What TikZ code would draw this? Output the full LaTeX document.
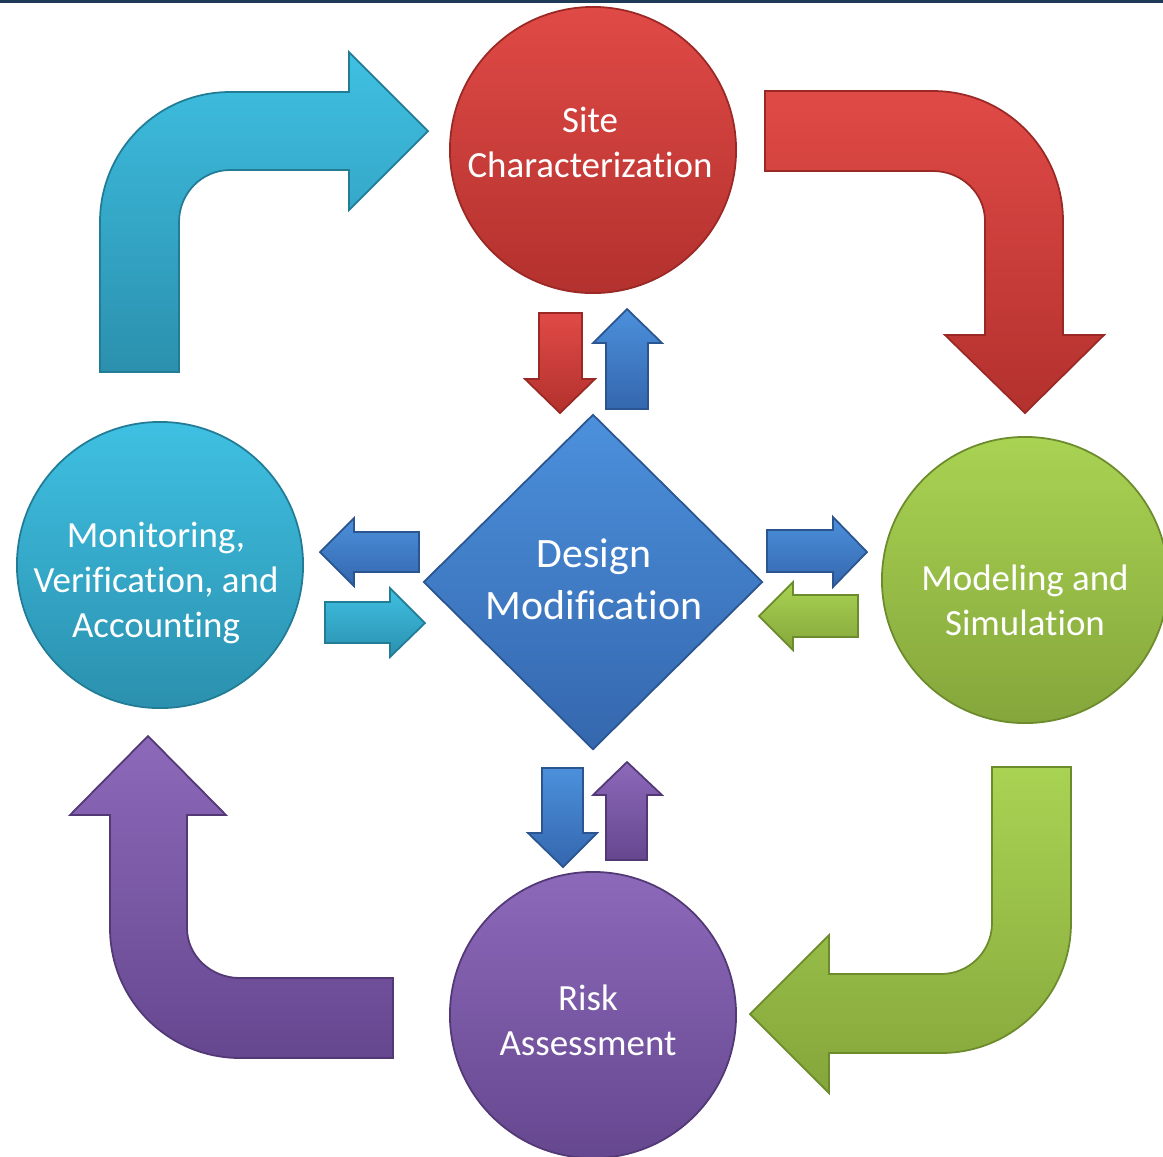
\documentclass[tikz,border=0pt]{standalone}
\usepackage{fontspec}
\setmainfont{Carlito}[RawFeature={-liga;-dlig;-clig;-calt;-rlig;-hlig}]
\usetikzlibrary{shapes.geometric}

\definecolor{redA}{HTML}{E04A46}
\definecolor{redB}{HTML}{B3312E}
\definecolor{redC}{HTML}{9A2926}
\definecolor{cyanA}{HTML}{3FC0E2}
\definecolor{cyanB}{HTML}{2B90AE}
\definecolor{cyanC}{HTML}{227C96}
\definecolor{greenA}{HTML}{A9D353}
\definecolor{greenB}{HTML}{85A63B}
\definecolor{greenC}{HTML}{6C8B2D}
\definecolor{purpleA}{HTML}{8D69BA}
\definecolor{purpleB}{HTML}{65478F}
\definecolor{purpleC}{HTML}{523976}
\definecolor{blueA}{HTML}{4C90DC}
\definecolor{blueB}{HTML}{3467AE}
\definecolor{blueC}{HTML}{2A5590}
\definecolor{bandcol}{HTML}{1E3A56}

\tikzset{
  redpart/.style={top color=redA, bottom color=redB, draw=redC, line width=0.5pt},
  cyanpart/.style={top color=cyanA, bottom color=cyanB, draw=cyanC, line width=0.5pt},
  greenpart/.style={top color=greenA, bottom color=greenB, draw=greenC, line width=0.5pt},
  purplepart/.style={top color=purpleA, bottom color=purpleB, draw=purpleC, line width=0.5pt},
  bluepart/.style={top color=blueA, bottom color=blueB, draw=blueC, line width=0.5pt},
  stage/.style={circle, minimum size=2.86cm, inner sep=0pt},
  stagetext/.style={text=white, align=center, font=\fontsize{10.5}{12.8}\selectfont},
}

\begin{document}
\begin{tikzpicture}[x=0.01cm, y=-0.01cm]
    \useasboundingbox (0,0) rectangle (1163,1156);
    \fill[bandcol] (0,0) rectangle (1163,3);

    % the four stages and the hub
    \node[stage, redpart] (site) at (593,150) {};
    \node[stage, greenpart] (model) at (1025,580) {};
    \node[stage, purplepart] (risk) at (593,1015) {};
    \node[stage, cyanpart] (mva) at (160,565) {};
    \node[diamond, shape aspect=1, minimum width=3.39cm, minimum height=3.35cm,
          inner sep=0pt, bluepart] (design) at (593,582) {};

    \node[stagetext] (site text) at (590,142) {Site\\Characterization};
    \node[stagetext] (model text) at (1025,600) {Modeling and\\Simulation};
    \node[stagetext] (risk text) at (588,1020) {Risk\\Assessment};
    \node[stagetext] (mva text) at (156,583) {Monitoring,\\Verification, and\\Accounting};
    \node[text=white, align=center, font=\fontsize{11.9}{14.8}\selectfont]
        (design text) at (594,579) {Design\\Modification};

    % big bent arrows round the cycle
    \draw[cyanpart] (100,372) -- (100,222) .. controls (100,150.2) and (158.2,92) .. (230,92)
        -- (349,92) -- (349,52) -- (428,131) -- (349,210) -- (349,170) -- (230,170)
        .. controls (201.8,170) and (179,193.3) .. (179,222) -- (179,372) -- cycle;
    \draw[redpart] (765,91) -- (933,91) .. controls (1004.8,91) and (1063,149.2) .. (1063,221)
        -- (1063,335) -- (1104,335) -- (1025,413) -- (945,335) -- (985,335) -- (985,221)
        .. controls (985,193.4) and (961.7,171) .. (933,171) -- (765,171) -- cycle;
    \draw[greenpart] (992,767) -- (1071,767) -- (1071,923) .. controls (1071,994.8) and (1012.8,1053) .. (941,1053)
        -- (829,1053) -- (829,1093) -- (750,1014) -- (829,935) -- (829,974) -- (941,974)
        .. controls (969.2,974) and (992,951.2) .. (992,923) -- cycle;
    \draw[purplepart] (393,978) -- (393,1058) -- (240,1058) .. controls (168.2,1058) and (110,999.8) .. (110,928)
        -- (110,815) -- (70,815) -- (148,736) -- (226,815) -- (187,815) -- (187,928)
        .. controls (187,955.6) and (210.7,978) .. (240,978) -- cycle;

    % small arrows to and from the hub
    \draw[redpart] (539,313) -- (582,313) -- (582,379) -- (595,379) -- (560,413) -- (525,379) -- (539,379) -- cycle;
    \draw[bluepart] (606,409) -- (606,343) -- (593,343) -- (627,309) -- (662,343) -- (648,343) -- (648,409) -- cycle;
    \draw[bluepart] (419,532) -- (354,532) -- (354,518) -- (320,552) -- (354,586) -- (354,572) -- (419,572) -- cycle;
    \draw[cyanpart] (325,602) -- (390,602) -- (390,588) -- (425,623) -- (390,657) -- (390,643) -- (325,643) -- cycle;
    \draw[bluepart] (767,530) -- (833,530) -- (833,517) -- (867,552) -- (833,587) -- (833,572) -- (767,572) -- cycle;
    \draw[greenpart] (858,595) -- (793,595) -- (793,582) -- (759,616) -- (793,650) -- (793,637) -- (858,637) -- cycle;
    \draw[bluepart] (542,768) -- (583,768) -- (583,833) -- (597,833) -- (563,867) -- (528,833) -- (542,833) -- cycle;
    \draw[purplepart] (606,860) -- (606,795) -- (593,795) -- (627,762) -- (662,795) -- (647,795) -- (647,860) -- cycle;
\end{tikzpicture}
\end{document}
